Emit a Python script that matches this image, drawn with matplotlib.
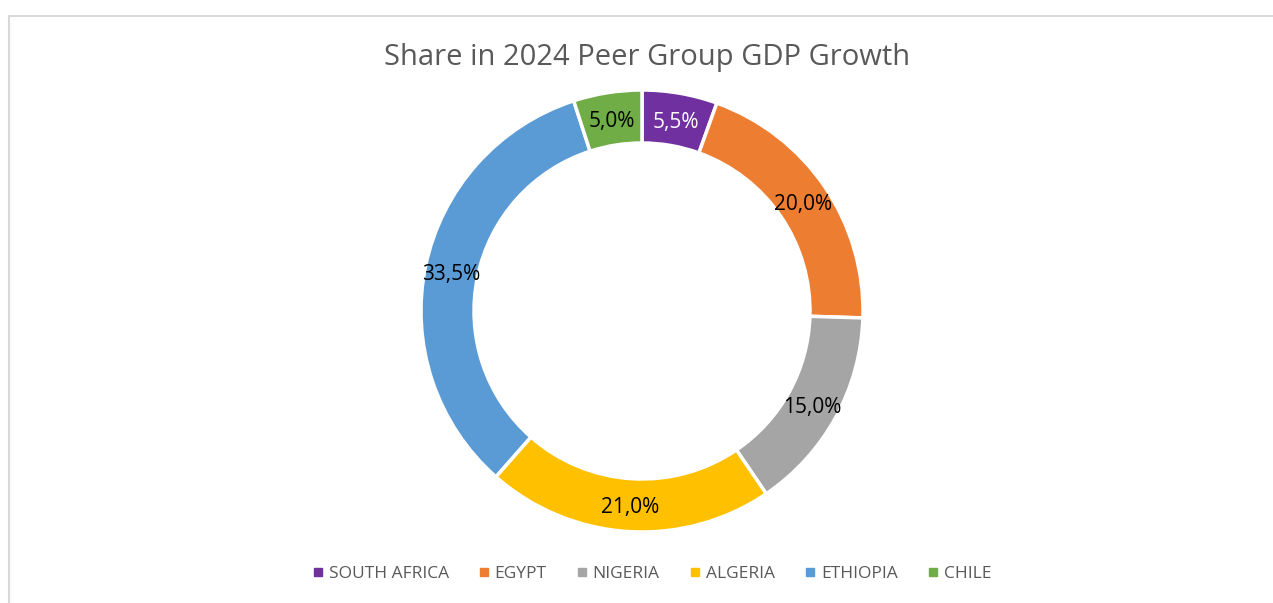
import numpy as np
import matplotlib.pyplot as plt
from matplotlib.lines import Line2D
from matplotlib.patches import Rectangle

plt.rcParams['font.family'] = ['Open Sans', 'DejaVu Sans']

countries = ["SOUTH AFRICA", "EGYPT", "NIGERIA", "ALGERIA", "ETHIOPIA", "CHILE"]
shares = [5.5, 20.0, 15.0, 21.0, 33.5, 5.0]
colors = ["#7030a0", "#ed7d31", "#a5a5a5", "#ffc000", "#5b9bd5", "#70ad47"]
label_colors = ["white", "black", "black", "black", "black", "black"]

W, H = 1273, 603
fig = plt.figure(figsize=(W / 100, H / 100), dpi=100)

# light frame around the chart area (cut off at right and bottom)
fig.patches.append(Rectangle((8.5 / W, -0.1), 1.2, 1 - 15.5 / H + 0.1,
                             transform=fig.transFigure, fill=False,
                             edgecolor="#d9d9d9", linewidth=1.5))

cx, cy, r = 642, H - 311, 221
ax = fig.add_axes([(cx - r) / W, (cy - r) / H, 2 * r / W, 2 * r / H])
ring = 53 / 221
wedges, _ = ax.pie(shares, colors=colors, startangle=90, counterclock=False,
                   radius=1, wedgeprops=dict(width=ring, edgecolor="white", linewidth=2.5))
ax.set_xlim(-1, 1)
ax.set_ylim(-1, 1)
ax.set_aspect("equal")
ax.axis("off")

mid_r = 1 - ring / 2
for w, v, c in zip(wedges, shares, label_colors):
    ang = np.deg2rad((w.theta1 + w.theta2) / 2)
    ax.text(mid_r * np.cos(ang), mid_r * np.sin(ang) - 0.012,
            f"{v:.1f}%".replace(".", ","), ha="center", va="center",
            fontsize=15, color=c)

fig.text(647 / W, 1 - 57 / H, "Share in 2024 Peer Group GDP Growth",
         ha="center", va="center", fontsize=21, color="#595959")

handles = [Line2D([], [], marker="s", linestyle="", markersize=6,
                  markerfacecolor=c, markeredgecolor=c) for c in colors]
fig.legend(handles, countries, loc="center", bbox_to_anchor=(652 / W, 1 - 574 / H),
           ncol=6, frameon=False, fontsize=12.5, labelcolor="#595959",
           handlelength=0.6, handletextpad=0.3, columnspacing=1.75)

fig.savefig("out.png", dpi=100, facecolor="white")
